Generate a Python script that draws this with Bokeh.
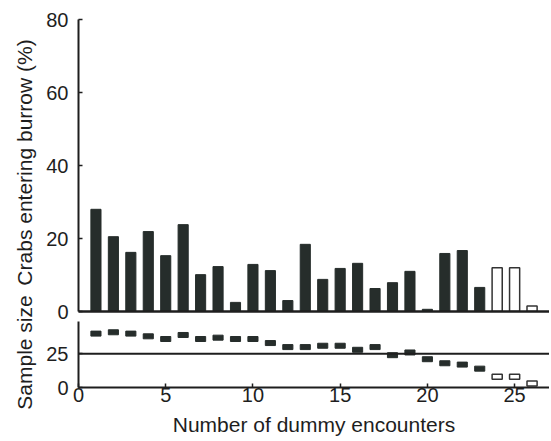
from math import pi
from bokeh.plotting import figure
from bokeh.layouts import row, column
from bokeh.models import Range1d, Span, Label, FixedTicker, ColumnDataSource
from bokeh.embed import file_html
from bokeh.resources import INLINE

# ---- data ----
encounters = list(range(1, 27))
pct_entering = [28.0, 20.5, 16.2, 21.9, 15.3, 23.8, 10.1, 12.3, 2.5, 12.9, 11.2, 3.0, 18.4,
                8.8, 11.8, 13.2, 6.3, 7.9, 11.0, 0.6, 15.9, 16.7, 6.6, 12.0, 12.0, 1.5]
sample_size = [40, 41, 40, 38, 36, 39, 36, 37, 36, 36, 33, 30, 30,
               31, 31, 28, 30, 24, 26, 21, 18, 17, 14, 8, 8, 3]
open_from = 24          # encounters from here on drawn as open symbols
pct_ticks = [0, 20, 40, 60, 80]
n_ticks = [0, 25]
x_ticks = [0, 5, 10, 15, 20, 25]
n_reference = 25

DARK = "#262d2b"
TXT = "#1e1e1e"
FONT = "Liberation Sans"
FS = "20px"
FS_LAB = "21px"

filled = [i for i, e in enumerate(encounters) if e < open_from]
hollow = [i for i, e in enumerate(encounters) if e >= open_from]

def sub(idx):
    return ColumnDataSource(dict(x=[encounters[i] for i in idx],
                                 pct=[pct_entering[i] for i in idx],
                                 n=[sample_size[i] for i in idx]))

src_f = sub(filled)
src_h = sub(hollow)

xr = Range1d(0, 27.0)

def style_axis(ax):
    ax.axis_line_width = 2
    ax.axis_line_color = TXT
    ax.major_tick_line_color = TXT
    ax.major_tick_line_width = 1.5
    ax.major_tick_in = 4
    ax.major_tick_out = 0
    ax.minor_tick_line_color = None
    ax.major_label_text_font = FONT
    ax.major_label_text_font_size = FS
    ax.major_label_text_color = TXT

# ---- top panel ----
p1 = figure(width=509, height=321, x_range=xr, y_range=Range1d(0, 80),
            toolbar_location=None, output_backend="svg",
            min_border_left=38, min_border_right=0, min_border_top=19, min_border_bottom=10)
p1.outline_line_color = None
p1.grid.visible = False
p1.vbar(x="x", top="pct", width=0.58, source=src_f, fill_color=DARK, line_color=DARK)
p1.vbar(x="x", top="pct", width=0.58, source=src_h, fill_color="white",
        line_color="#333333", line_width=1.5)
style_axis(p1.yaxis[0])
p1.yaxis[0].ticker = FixedTicker(ticks=pct_ticks)
p1.yaxis[0].major_label_standoff = 10
style_axis(p1.xaxis[0])
p1.xaxis[0].axis_line_width = 2.5
p1.xaxis[0].ticker = FixedTicker(ticks=[])
p1.xaxis[0].major_label_text_font_size = "0px"

# ---- bottom panel ----
p2 = figure(width=509, height=120, x_range=xr, y_range=Range1d(0, 49),
            toolbar_location=None, output_backend="svg",
            min_border_left=38, min_border_right=0, min_border_top=0, min_border_bottom=54)
p2.outline_line_color = None
p2.grid.visible = False
p2.add_layout(Span(location=n_reference, dimension="width", line_color=TXT, line_width=2))
p2.rect(x="x", y="n", width=0.58, height=5, height_units="screen", source=src_f,
        fill_color=DARK, line_color=DARK)
p2.rect(x="x", y="n", width=0.58, height=5, height_units="screen", source=src_h,
        fill_color="white", line_color="#333333", line_width=1.5)
style_axis(p2.yaxis[0])
p2.yaxis[0].ticker = FixedTicker(ticks=n_ticks)
p2.yaxis[0].major_label_standoff = 10
style_axis(p2.xaxis[0])
p2.xaxis[0].ticker = FixedTicker(ticks=x_ticks)
p2.xaxis[0].major_label_standoff = 0
p2.xaxis[0].axis_label = "Number of dummy encounters"
p2.xaxis[0].axis_label_text_font = FONT
p2.xaxis[0].axis_label_text_font_size = FS_LAB
p2.xaxis[0].axis_label_text_font_style = "normal"
p2.xaxis[0].axis_label_text_color = TXT
p2.xaxis[0].axis_label_standoff = 8

# ---- y-axis titles (shared strip so the long title can overhang its panel) ----
lab = figure(width=40, height=441, x_range=Range1d(0, 40), y_range=Range1d(0, 441),
             toolbar_location=None, output_backend="svg", min_border=0,
             x_axis_location=None, y_axis_location=None)
lab.outline_line_color = None
lab.grid.visible = False
for txt, yy in [("Crabs entering burrow (%)", 279), ("Sample size", 89)]:
    lab.add_layout(Label(x=24, y=yy, text=txt, angle=pi / 2, text_align="center",
                         text_baseline="middle", text_font=FONT, text_font_size=FS_LAB,
                         text_color=TXT))

layout = row(lab, column(p1, p2, spacing=0), spacing=0)
open("out.html", "w").write(file_html(layout, INLINE))
